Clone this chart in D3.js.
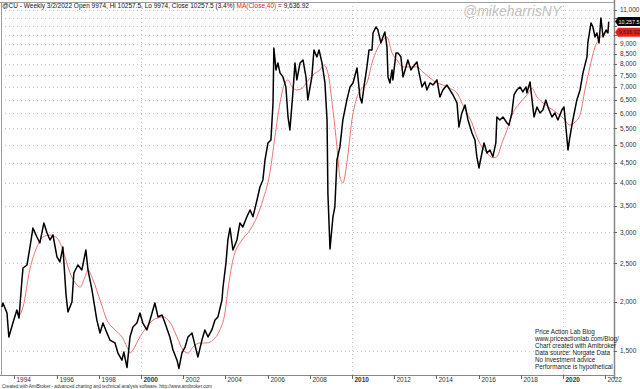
<!DOCTYPE html>
<html>
<head>
<meta charset="utf-8">
<script src="https://cdn.jsdelivr.net/npm/d3@7"></script>
<style>
  html, body { margin: 0; padding: 0; background: #fff; }
  svg { display: block; font-family: "Liberation Sans", Arial, sans-serif; }
</style>
</head>
<body>
<svg id="chart" width="640" height="389"></svg>
<script>
// price levels on the right axis
const priceTicks = [1500, 2000, 2500, 3000, 3500, 4000, 4500, 5000, 5500, 6000,
  6500, 7000, 7500, 8000, 8500, 9000, 9500, 10000, 10500, 11000];
const yearTicks = [1994, 1996, 1998, 2000, 2002, 2004, 2006, 2008, 2010, 2012,
  2014, 2016, 2018, 2020, 2022];
const decadeYears = [2000, 2010, 2020];

// weekly close (decimal year, price)
const closeData = [
  [1993.41, 1940], [1993.46, 1985], [1993.65, 1872], [1993.74, 1628], [1993.93, 1766],
  [1994.12, 1906], [1994.22, 1819], [1994.36, 2270], [1994.41, 2435], [1994.60, 2478],
  [1994.74, 2752], [1994.88, 3075], [1995.07, 2918], [1995.21, 2818], [1995.40, 3167],
  [1995.55, 2987], [1995.69, 2868], [1995.83, 2952], [1996.02, 2597], [1996.16, 2522],
  [1996.30, 2752], [1996.45, 2080], [1996.54, 1884], [1996.73, 1996], [1996.82, 2365],
  [1997.01, 2478], [1997.20, 2407], [1997.39, 2705], [1997.49, 2407], [1997.68, 2141],
  [1997.91, 1797], [1998.06, 1666], [1998.20, 1766], [1998.39, 1666], [1998.53, 1599],
  [1998.77, 1572], [1998.91, 1482], [1999.10, 1422], [1999.19, 1491], [1999.34, 1362],
  [1999.48, 1628], [1999.62, 1726], [1999.81, 1766], [1999.95, 1872], [2000.09, 1766],
  [2000.28, 1696], [2000.43, 1797], [2000.66, 1985], [2000.81, 1830], [2001.00, 1851],
  [2001.14, 1766], [2001.37, 1628], [2001.52, 1509], [2001.71, 1422], [2001.80, 1355],
  [2001.94, 1482], [2002.09, 1535], [2002.23, 1628], [2002.42, 1666], [2002.56, 1553],
  [2002.70, 1448], [2002.89, 1599], [2003.03, 1696], [2003.18, 1628], [2003.36, 1696],
  [2003.51, 1797], [2003.65, 1830], [2003.84, 2020], [2003.89, 2179], [2004.03, 2508],
  [2004.12, 2868], [2004.22, 3075], [2004.36, 2705], [2004.55, 2868], [2004.69, 3167],
  [2004.83, 3093], [2005.02, 3283], [2005.17, 3416], [2005.31, 3283], [2005.50, 3622],
  [2005.64, 3907], [2005.78, 4071], [2005.88, 4574], [2006.02, 5052], [2006.16, 5141],
  [2006.26, 6380], [2006.30, 8795], [2006.40, 7736], [2006.49, 8058], [2006.59, 7602],
  [2006.73, 7427], [2006.87, 7005], [2006.97, 5879], [2007.06, 5450], [2007.20, 6765],
  [2007.30, 8058], [2007.39, 7298], [2007.54, 8058], [2007.68, 8201], [2007.82, 7427],
  [2007.91, 6493], [2008.10, 7427], [2008.20, 8694], [2008.34, 8346], [2008.44, 8694],
  [2008.58, 8058], [2008.72, 7170], [2008.82, 5778], [2008.86, 3773], [2008.96, 2720],
  [2009.10, 3283], [2009.19, 3476], [2009.29, 4574], [2009.43, 4935], [2009.57, 5778],
  [2009.76, 6493], [2009.91, 7005], [2010.05, 7170], [2010.24, 7826], [2010.38, 6607],
  [2010.47, 6380], [2010.57, 7005], [2010.71, 7872], [2010.81, 8694], [2010.95, 8694],
  [2011.00, 9600], [2011.14, 9940], [2011.23, 9770], [2011.37, 9055], [2011.47, 9378],
  [2011.56, 9656], [2011.66, 8846], [2011.71, 7427], [2011.80, 7170], [2011.90, 7736],
  [2011.94, 7298], [2012.09, 8545], [2012.18, 8545], [2012.32, 8346], [2012.42, 7427],
  [2012.56, 7872], [2012.65, 8201], [2012.80, 7736], [2012.89, 7872], [2013.08, 8105],
  [2013.18, 7602], [2013.32, 7005], [2013.46, 7213], [2013.55, 6883], [2013.70, 7170],
  [2013.84, 7086], [2014.03, 7298], [2014.17, 6607], [2014.31, 6883], [2014.50, 7086],
  [2014.64, 6883], [2014.79, 6684], [2014.98, 6380], [2015.07, 5545], [2015.21, 6018],
  [2015.36, 6305], [2015.50, 5778], [2015.69, 5355], [2015.83, 5141], [2015.92, 4662],
  [2016.02, 4365], [2016.16, 4764], [2016.26, 5052], [2016.40, 4764], [2016.54, 4849],
  [2016.68, 4662], [2016.82, 5052], [2016.87, 5879], [2017.01, 5778], [2017.16, 5879],
  [2017.35, 5673], [2017.44, 5607], [2017.58, 6018], [2017.68, 6684], [2017.82, 6883],
  [2017.96, 7005], [2018.10, 6803], [2018.25, 7005], [2018.29, 6765], [2018.44, 7213],
  [2018.53, 6531], [2018.63, 5879], [2018.77, 6232], [2018.91, 6018], [2019.05, 6125],
  [2019.19, 6493], [2019.29, 6232], [2019.48, 5879], [2019.62, 6018], [2019.76, 5778],
  [2019.95, 6125], [2020.05, 6232], [2020.14, 5545], [2020.24, 4849], [2020.33, 5232],
  [2020.47, 5778], [2020.66, 6493], [2020.81, 6883], [2020.95, 7602], [2021.14, 8346],
  [2021.18, 9055], [2021.33, 10177], [2021.42, 9940], [2021.52, 9378], [2021.61, 9600],
  [2021.71, 9055], [2021.80, 10478], [2021.90, 9378], [2022.04, 9770], [2022.13, 9600],
  [2022.17, 10257.5]
];

// 40-week moving average
const maData = [
  [1994.17, 1819], [1994.41, 1940], [1994.74, 2421], [1995.07, 2752], [1995.36, 2918],
  [1995.69, 2952], [1996.02, 2901], [1996.30, 2705], [1996.64, 2365], [1996.97, 2205],
  [1997.11, 2179], [1997.35, 2312], [1997.49, 2407], [1997.73, 2270], [1998.06, 2020],
  [1998.39, 1797], [1998.77, 1696], [1999.10, 1628], [1999.34, 1535], [1999.48, 1482],
  [1999.62, 1509], [1999.95, 1628], [2000.28, 1726], [2000.57, 1797], [2000.81, 1819],
  [2001.04, 1830], [2001.37, 1776], [2001.71, 1628], [2001.99, 1509], [2002.23, 1482],
  [2002.46, 1535], [2002.80, 1572], [2003.13, 1572], [2003.41, 1599], [2003.74, 1696],
  [2003.98, 1872], [2004.12, 2141], [2004.36, 2552], [2004.79, 2868], [2005.17, 3040],
  [2005.50, 3283], [2005.78, 3622], [2006.11, 4240], [2006.35, 5232], [2006.59, 6380],
  [2006.82, 7170], [2006.97, 7298], [2007.16, 7005], [2007.39, 6883], [2007.63, 6942],
  [2007.87, 7213], [2008.15, 7513], [2008.48, 7736], [2008.67, 7965], [2008.86, 7602],
  [2009.10, 6125], [2009.29, 4935], [2009.43, 4144], [2009.57, 4000], [2009.76, 4497],
  [2010.00, 5778], [2010.24, 6607], [2010.47, 6942], [2010.71, 7170], [2010.95, 8058],
  [2011.18, 8694], [2011.47, 9218], [2011.66, 9378], [2011.90, 8545], [2012.13, 8201],
  [2012.42, 7872], [2012.75, 7872], [2013.08, 7872], [2013.36, 7646], [2013.70, 7384],
  [2014.03, 7170], [2014.31, 7086], [2014.64, 6942], [2014.98, 6765], [2015.21, 6380],
  [2015.45, 6018], [2015.69, 5673], [2015.92, 5232], [2016.16, 4935], [2016.40, 4764],
  [2016.68, 4632], [2016.87, 4662], [2017.11, 5052], [2017.35, 5450], [2017.63, 6018],
  [2017.96, 6380], [2018.29, 6684], [2018.53, 6942], [2018.77, 6607], [2019.05, 6380],
  [2019.38, 6196], [2019.72, 6018], [2020.00, 5845], [2020.33, 5607], [2020.57, 5706],
  [2020.81, 5948], [2021.04, 6883], [2021.28, 7872], [2021.52, 8846], [2021.75, 9326],
  [2021.99, 9600], [2022.17, 9636.92]
];

const lastClose = 10257.5;
const lastMA = 9636.92;
const infoLines = ["Price Action Lab Blog", "www.priceactionlab.com/Blog/",
  "Chart created with Amibroker", "Data source: Norgate Data",
  "No investment advice", "Performance is hypothetical"];

const svg = d3.select("#chart");
const plotRight = 614, plotTop = 2, plotBottom = 375;

const x = d3.scaleLinear().domain([1993.32, 2022.42]).range([0, plotRight]);
const y = d3.scaleLog().domain([1304, 11500]).range([plotBottom, plotTop]);

// grid
svg.append("g").selectAll("line").data(priceTicks).join("line")
  .attr("x1", 1).attr("x2", plotRight)
  .attr("y1", d => Math.round(y(d)) + 0.5).attr("y2", d => Math.round(y(d)) + 0.5)
  .attr("stroke", "#c4c4c4").attr("stroke-dasharray", "1,3");

svg.append("g").selectAll("line").data(decadeYears).join("line")
  .attr("x1", d => Math.round(x(d)) + 0.5).attr("x2", d => Math.round(x(d)) + 0.5)
  .attr("y1", plotTop).attr("y2", plotBottom)
  .attr("stroke", "#c4c4c4").attr("stroke-dasharray", "1,3");

// frame
svg.append("line").attr("x1", 0).attr("x2", plotRight).attr("y1", plotTop + 0.5).attr("y2", plotTop + 0.5)
  .attr("stroke", "#a0a0a0");
svg.append("line").attr("x1", 1.5).attr("x2", 1.5).attr("y1", plotTop).attr("y2", plotBottom)
  .attr("stroke", "#a0a0a0");
svg.append("line").attr("x1", 0).attr("x2", plotRight).attr("y1", plotBottom + 0.5).attr("y2", plotBottom + 0.5)
  .attr("stroke", "#888");
svg.append("line").attr("x1", plotRight + 0.5).attr("x2", plotRight + 0.5).attr("y1", 0).attr("y2", 379)
  .attr("stroke", "#888").attr("stroke-width", 1.5);

// right axis labels
const valueLabelYs = [y(lastClose), y(lastMA)];
const yTickG = svg.append("g");
priceTicks.forEach(t => {
  const ty = y(t);
  yTickG.append("line").attr("x1", plotRight).attr("x2", plotRight + 3)
    .attr("y1", Math.round(ty) + 0.5).attr("y2", Math.round(ty) + 0.5).attr("stroke", "#666");
  if (valueLabelYs.some(v => Math.abs(v - ty) < 8)) return;
  yTickG.append("text")
    .attr("x", 620).attr("y", Math.max(ty, 5) + 2.3)
    .attr("font-size", 6.5).attr("fill", "#333")
    .text(d3.format(",")(t));
});

// bottom axis
const xTickG = svg.append("g");
yearTicks.forEach(yr => {
  const tx = Math.round(x(yr)) + 0.5;
  xTickG.append("line").attr("x1", tx).attr("x2", tx).attr("y1", plotBottom).attr("y2", plotBottom + 4)
    .attr("stroke", "#666");
  xTickG.append("text")
    .attr("x", tx + 2).attr("y", 382)
    .attr("font-size", 6.5).attr("fill", "#333")
    .attr("font-weight", decadeYears.includes(yr) ? "bold" : "normal")
    .text(yr);
});

// series
const line = d3.line().x(d => x(d[0])).y(d => y(d[1]));
svg.append("path").datum(maData)
  .attr("d", line.curve(d3.curveMonotoneX))
  .attr("fill", "none").attr("stroke", "#f07272").attr("stroke-width", 1);
svg.append("path").datum(closeData)
  .attr("d", d3.line().x(d => x(d[0])).y(d => y(d[1])))
  .attr("fill", "none").attr("stroke", "#000").attr("stroke-width", 1.5)
  .attr("stroke-linejoin", "round");

// value tags on the right
function tag(v, fill, textFill, label) {
  const ty = y(v);
  svg.append("path")
    .attr("d", `M${plotRight + 1},${ty} L${plotRight + 4},${ty - 4.5} H640 V${ty + 4.5} H${plotRight + 4} Z`)
    .attr("fill", fill);
  svg.append("text").attr("x", 639.5).attr("y", ty + 2)
    .attr("text-anchor", "end")
    .attr("font-size", 5.4).attr("fill", textFill).text(label);
}
tag(lastClose, "#000", "#fff", d3.format(",.1f")(lastClose));
tag(lastMA, "#e8201c", "#222", d3.format(",.2f")(lastMA));

// header
const header = svg.append("text").attr("x", 2).attr("y", 8).attr("font-size", 6.5).attr("fill", "#111");
header.append("tspan").text("@CU - Weekly 3/2/2022 Open 9974, Hi 10257.5, Lo 9974, Close 10257.5 (3.4%) ");
header.append("tspan").attr("fill", "#e8201c").text("MA(Close,40)");
header.append("tspan").text(" = 9,636.92");

svg.append("text").attr("x", 463).attr("y", 16)
  .attr("font-size", 14).attr("font-style", "italic").attr("fill", "#c0c0c0")
  .text("@mikeharrisNY");

// info block
svg.append("g").selectAll("text").data(infoLines).join("text")
  .attr("x", 535).attr("y", (d, i) => 333.5 + i * 7.1)
  .attr("font-size", 6.3).attr("fill", "#222")
  .text(d => d);

// footer
svg.append("text").attr("x", 2).attr("y", 388)
  .attr("font-size", 4.6).attr("fill", "#333")
  .text("Created with AmiBroker - advanced charting and technical analysis software. http://www.amibroker.com");
</script>
</body>
</html>
